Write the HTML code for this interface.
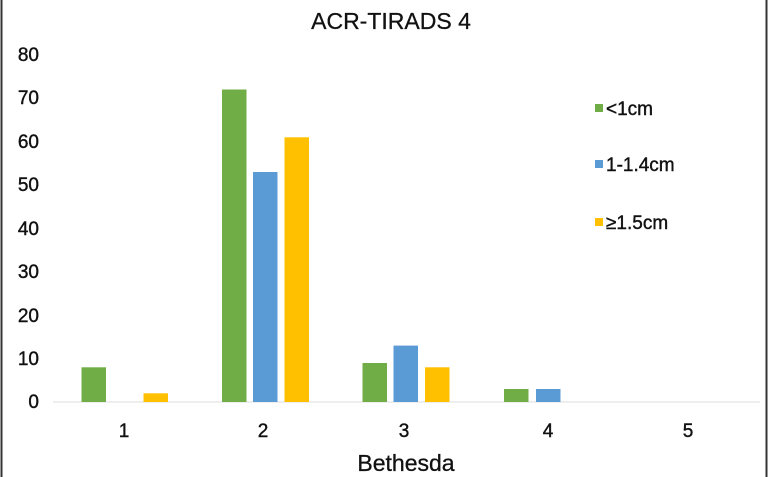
<!DOCTYPE html>
<html><head><style>
body{margin:0;background:#fff}
svg{display:block;font-family:"Liberation Sans",sans-serif}
</style></head><body>
<svg width="768" height="477" viewBox="0 0 768 477">
<rect x="0" y="0" width="768" height="477" fill="#fff"/>
<line x1="1.5" y1="0" x2="1.5" y2="477" stroke="#333" stroke-width="2"/>
<line x1="766.5" y1="0" x2="766.5" y2="477" stroke="#333" stroke-width="2"/>
<text x="391" y="29" font-size="23" text-anchor="middle" fill="#111" stroke="#111" stroke-width="0.3">ACR-TIRADS 4</text>
<g font-size="19" fill="#111" text-anchor="end" stroke="#111" stroke-width="0.4">
<text x="39" y="61">80</text><text x="39" y="104">70</text><text x="39" y="148">60</text>
<text x="39" y="191">50</text><text x="39" y="235">40</text><text x="39" y="278">30</text>
<text x="39" y="322">20</text><text x="39" y="365">10</text><text x="39" y="408">0</text>
</g>
<line x1="53" y1="402" x2="760" y2="402" stroke="#ddd" stroke-width="1"/>
<g>
<rect x="81.5" y="367.3" width="24.5" height="34.7" fill="#70ad47"/>
<rect x="143.5" y="393.3" width="24.5" height="8.7" fill="#ffc000"/>
<rect x="222" y="89.5" width="24.5" height="312.5" fill="#70ad47"/>
<rect x="253" y="172" width="24.5" height="230" fill="#5b9bd5"/>
<rect x="284.5" y="137.3" width="24.5" height="264.7" fill="#ffc000"/>
<rect x="362.5" y="363" width="24.5" height="39" fill="#70ad47"/>
<rect x="393.5" y="345.6" width="24.5" height="56.4" fill="#5b9bd5"/>
<rect x="425" y="367.3" width="24.5" height="34.7" fill="#ffc000"/>
<rect x="504" y="389" width="24.5" height="13" fill="#70ad47"/>
<rect x="536" y="389" width="24.5" height="13" fill="#5b9bd5"/>
</g>
<g font-size="19" fill="#111" text-anchor="middle" stroke="#111" stroke-width="0.4">
<text x="124" y="437">1</text><text x="263" y="437">2</text><text x="404" y="437">3</text>
<text x="548" y="437">4</text><text x="688" y="437">5</text>
</g>
<text x="406" y="471" font-size="23" text-anchor="middle" fill="#111" stroke="#111" stroke-width="0.3">Bethesda</text>
<g font-size="19" fill="#111" stroke-width="0.4">
<rect x="595" y="104" width="8" height="8" fill="#70ad47"/><text x="606" y="115" stroke="#111">&lt;1cm</text>
<rect x="595" y="160" width="8" height="8" fill="#5b9bd5"/><text x="606" y="171" stroke="#111">1-1.4cm</text>
<rect x="595" y="218" width="8" height="8" fill="#ffc000"/><text x="606" y="229" stroke="#111">≥1.5cm</text>
</g>
</svg>
</body></html>
